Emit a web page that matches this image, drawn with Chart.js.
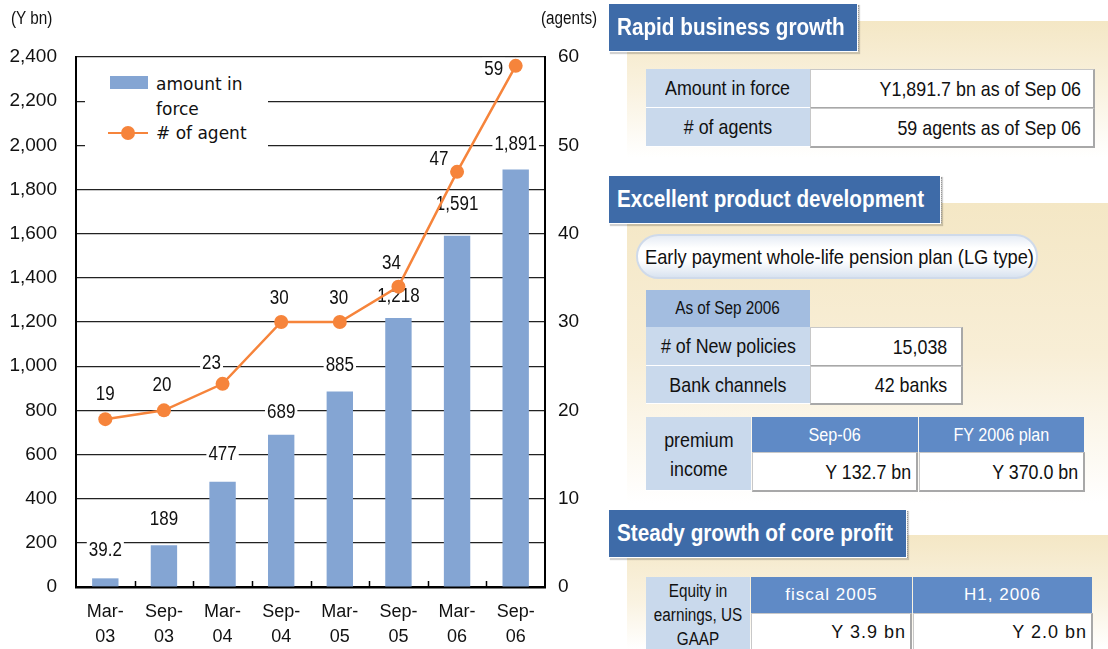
<!DOCTYPE html>
<html>
<head>
<meta charset="utf-8">
<script src="https://cdn.jsdelivr.net/npm/chart.js@4"></script>
<style>
body { margin: 0; width: 1108px; height: 649px; background: #fff; position: relative; overflow: hidden;
  font-family: "Liberation Sans", Arial, sans-serif; color: #111; }
.abs { position: absolute; }
#chartBox { position: absolute; left: 0; top: 0; width: 605px; height: 649px; }
.n { display: inline-block; white-space: nowrap; transform: scaleX(0.85); }
.unit { position: absolute; font-size: 18px; }
.legend { position: absolute; left: 85px; top: 62px; width: 183px; height: 98px; background: #fff;
  font-family: "DejaVu Sans", sans-serif; font-size: 17px; }
.beige { position: absolute; left: 627px; width: 481px; }
.title { position: absolute; left: 609px; height: 47px; background: #3e6ba8; color: #fff; font-weight: bold;
  font-size: 23px; line-height: 46px; padding-left: 8px; box-sizing: border-box; white-space: nowrap;
  box-shadow: 0 0 0 1px #fff, 2px 2px 1px 1px rgba(0,0,0,0.18); }
.title .n { transform: scaleX(0.9); transform-origin: left center; }
.dots { position: absolute; border-left: 1px dotted #999; }
.cell { position: absolute; display: flex; align-items: center; box-sizing: border-box; font-size: 21px; white-space: nowrap; }
.lb { background: #c9d9ec; justify-content: center; text-align: center; border-bottom: 1px solid #fff; }
.hd2 { background: #a3bde0; justify-content: center; font-size: 18px; }
.hd { background: #5f8ac6; color: #fff; justify-content: center; font-size: 19px; }
.wh { background: #fff; justify-content: flex-end; border: 1px solid #c8c8c8; border-right: 2px solid #a8a8a8; border-bottom: 2px solid #a8a8a8; }
.wh .n { transform-origin: right center; }
.wide { font-size: 17px; letter-spacing: 1px; }
.pill { position: absolute; left: 636px; top: 234px; width: 402px; height: 45px; box-sizing: border-box;
  border-radius: 23px; border: 2px solid #cfdaea; background: linear-gradient(#e6ecf5, #fff 30%, #fff 60%, #d9e3f0);
  font-size: 21px; line-height: 41px; padding-left: 7px; white-space: nowrap; }
.pill .n { transform-origin: left center; transform: scaleX(0.87); }
</style>
</head>
<body>
<div id="chartBox"><canvas id="chart"></canvas></div>

<div class="unit" style="left:11px; top:8px;"><span class="n" style="transform-origin:left">(Y bn)</span></div>
<div class="unit" style="left:541px; top:8px;"><span class="n" style="transform-origin:left">(agents)</span></div>

<div class="legend">
  <div class="abs" style="left:25px; top:14px; width:38px; height:13px; background:#84a5d3;"></div>
  <div class="abs" style="left:71px; top:10px; line-height:25px;">amount in<br>force</div>
  <div class="abs" style="left:23px; top:70px; width:40px; height:2px; background:#f6843b;"></div>
  <div class="abs" style="left:36px; top:64px; width:14px; height:14px; border-radius:7px; background:#f6843b;"></div>
  <div class="abs" style="left:71px; top:59px; line-height:25px;">&#35; of agent</div>
</div>

<!-- Rapid business growth -->
<div class="beige" style="top:21px; height:136px; background:linear-gradient(#f4e7c5, #faf3e2 55%, #fff);"></div>
<div class="title" style="top:4px; width:248px;"><span class="n">Rapid business growth</span></div>
<div class="dots" style="left:858px; top:5px; height:46px;"></div>
<div class="cell lb" style="left:646px; top:69px; width:164px; height:39px;"><span class="n">Amount in force</span></div>
<div class="cell lb" style="left:646px; top:108px; width:164px; height:39px;"><span class="n"># of agents</span></div>
<div class="cell wh" style="left:810px; top:69px; width:285px; height:40px; padding-right:12px;"><span class="n">Y1,891.7 bn as of Sep 06</span></div>
<div class="cell wh" style="left:810px; top:108px; width:285px; height:40px; padding-right:12px;"><span class="n">59 agents as of Sep 06</span></div>

<!-- Excellent product development -->
<div class="beige" style="top:203px; height:300px; background:linear-gradient(#f4e7c5, #f8eed6 50%, #fff);"></div>
<div class="title" style="top:176px; width:331px;"><span class="n">Excellent product development</span></div>
<div class="dots" style="left:941px; top:177px; height:46px;"></div>
<div class="pill"><span class="n">Early payment whole-life pension plan (LG type)</span></div>
<div class="cell hd2" style="left:646px; top:290px; width:164px; height:37px;"><span class="n">As of Sep 2006</span></div>
<div class="cell lb" style="left:646px; top:327px; width:164px; height:39px;"><span class="n"># of New policies</span></div>
<div class="cell lb" style="left:646px; top:366px; width:164px; height:38px;"><span class="n">Bank channels</span></div>
<div class="cell wh" style="left:810px; top:327px; width:153px; height:40px; padding-right:14px;"><span class="n">15,038</span></div>
<div class="cell wh" style="left:810px; top:366px; width:153px; height:39px; padding-right:14px;"><span class="n">42 banks</span></div>

<div class="cell lb" style="left:646px; top:417px; width:105px; height:74px; line-height:29px;"><span class="n">premium<br>income</span></div>
<div class="cell hd" style="left:752px; top:417px; width:166px; height:35px;"><span class="n">Sep-06</span></div>
<div class="cell hd" style="left:919px; top:417px; width:165px; height:35px;"><span class="n">FY 2006 plan</span></div>
<div class="cell wh" style="left:752px; top:452px; width:166px; height:40px; padding-right:5px;"><span class="n">Y 132.7 bn</span></div>
<div class="cell wh" style="left:919px; top:452px; width:166px; height:40px; padding-right:5px;"><span class="n">Y 370.0 bn</span></div>

<!-- Steady growth of core profit -->
<div class="beige" style="top:535px; height:114px; background:linear-gradient(#f4e7c5, #faf3e2 60%, #fff);"></div>
<div class="title" style="top:510px; width:297px;"><span class="n">Steady growth of core profit</span></div>
<div class="dots" style="left:907px; top:511px; height:47px;"></div>
<div class="cell lb" style="left:646px; top:577px; width:104px; height:80px; font-size:18px; line-height:24px; align-items:flex-start; padding-top:2px;"><span class="n">Equity in<br>earnings, US<br>GAAP</span></div>
<div class="cell hd wide" style="left:751px; top:577px; width:161px; height:36px;">fiscal 2005</div>
<div class="cell hd wide" style="left:913px; top:577px; width:179px; height:36px;">H1, 2006</div>
<div class="cell wh wide" style="left:751px; top:613px; width:161px; height:45px; padding-right:4px; font-size:18px; align-items:flex-start; padding-top:8px;">Y 3.9 bn</div>
<div class="cell wh wide" style="left:913px; top:613px; width:180px; height:45px; padding-right:4px; font-size:18px; align-items:flex-start; padding-top:8px;">Y 2.0 bn</div>

<script>
// Chart data
const tickLabels = [['Mar-', '03'], ['Sep-', '03'], ['Mar-', '04'], ['Sep-', '04'],
                    ['Mar-', '05'], ['Sep-', '05'], ['Mar-', '06'], ['Sep-', '06']]
const amountInForce = [39.2, 189, 477, 689, 885, 1218, 1591, 1891]
const amountLabels = ['39.2', '189', '477', '689', '885', '1,218', '1,591', '1,891']
const agents = [19, 20, 23, 30, 30, 34, 47, 59]
const agentLabels = ['19', '20', '23', '30', '30', '34', '47', '59']

// label offsets from the mark (px)
const barLabelOffset = [[0, -29], [0, -27], [0, -28], [0, -23], [0, -27], [0, -23], [0, -32], [0, -26]]
const lineLabelOffset = [[0, -26], [-2, -26], [-11, -21], [-2, -25], [-1, -25], [-7, -24], [-18, -13], [-22, 3]]

const font = '"Liberation Sans", Arial, sans-serif'

// Value labels with white boxes, drawn right after each dataset
const valueLabels = {
    id: 'valueLabels',
    afterDatasetDraw(chart, args) {
        const ctx = chart.ctx
        const isBar = args.meta.type === 'bar'
        const texts = isBar ? amountLabels : agentLabels
        const offs = isBar ? barLabelOffset : lineLabelOffset
        ctx.save()
        ctx.font = '20px ' + font
        ctx.textAlign = 'center'
        ctx.textBaseline = 'middle'
        args.meta.data.forEach((el, i) => {
            const x = el.x + offs[i][0]
            const y = el.y + offs[i][1]
            const w = ctx.measureText(texts[i]).width * 0.85 + 4
            ctx.fillStyle = '#fff'
            ctx.fillRect(x - w / 2, y - 11, w, 22)
            ctx.fillStyle = '#111'
            // condensed look
            ctx.save()
            ctx.translate(x, y + 1)
            ctx.scale(0.85, 1)
            ctx.fillText(texts[i], 0, 0)
            ctx.restore()
        })
        ctx.restore()
    }
}

// Small tick marks between categories, pointing up into the plot
const innerTicks = {
    id: 'innerTicks',
    afterDraw(chart) {
        const ctx = chart.ctx
        const xs = chart.scales.x
        const bottom = chart.chartArea.bottom
        ctx.save()
        ctx.strokeStyle = '#000'
        ctx.lineWidth = 1.5
        ctx.beginPath()
        for (let i = 1; i < tickLabels.length; i++) {
            const px = Math.round((xs.getPixelForValue(i - 1) + xs.getPixelForValue(i)) / 2) + 0.5
            ctx.moveTo(px, bottom)
            ctx.lineTo(px, bottom - 6)
        }
        ctx.stroke()
        ctx.restore()
    }
}

const ctx = document.getElementById('chart')

new Chart(ctx, {
    data: {
        labels: tickLabels,
        datasets: [{
            type: 'bar',
            label: 'amount in force',
            data: amountInForce,
            backgroundColor: '#84a5d3',
            yAxisID: 'y',
            categoryPercentage: 1,
            barPercentage: 0.45,
            order: 2
        }, {
            type: 'line',
            label: '# of agent',
            data: agents,
            borderColor: '#f6843b',
            backgroundColor: '#f6843b',
            borderWidth: 2.5,
            pointRadius: 7,
            pointBorderWidth: 0,
            tension: 0,
            yAxisID: 'y1',
            order: 1
        }]
    },
    options: {
        responsive: true,
        maintainAspectRatio: false,
        animation: false,
        events: [],
        layout: { padding: { top: 57, left: 0, right: 0, bottom: 0 } },
        plugins: {
            legend: { display: false },
            tooltip: { enabled: false }
        },
        scales: {
            x: {
                offset: true,
                grid: { drawOnChartArea: false, drawTicks: false },
                border: { color: '#000', width: 2.5 },
                ticks: { color: '#111', padding: 12, maxRotation: 0, autoSkip: false,
                         font: { family: font, size: 18, lineHeight: 1.4 } },
                afterFit: s => { s.height = 62 }
            },
            y: {
                position: 'left',
                min: 0,
                max: 2400,
                grid: { color: '#222', lineWidth: 1.2, drawTicks: false },
                border: { color: '#000', width: 2 },
                ticks: { stepSize: 200, padding: 19, color: '#111',
                         font: { family: font, size: 19 },
                         callback: v => v.toLocaleString('en-US') },
                afterFit: s => { s.width = 76 }
            },
            y1: {
                position: 'right',
                min: 0,
                max: 60,
                grid: { drawOnChartArea: false, drawTicks: false },
                border: { color: '#000', width: 2 },
                ticks: { stepSize: 10, padding: 13, color: '#111',
                         font: { family: font, size: 19 } },
                afterFit: s => { s.width = 60 }
            }
        }
    },
    plugins: [valueLabels, innerTicks]
})
</script>
</body>
</html>
